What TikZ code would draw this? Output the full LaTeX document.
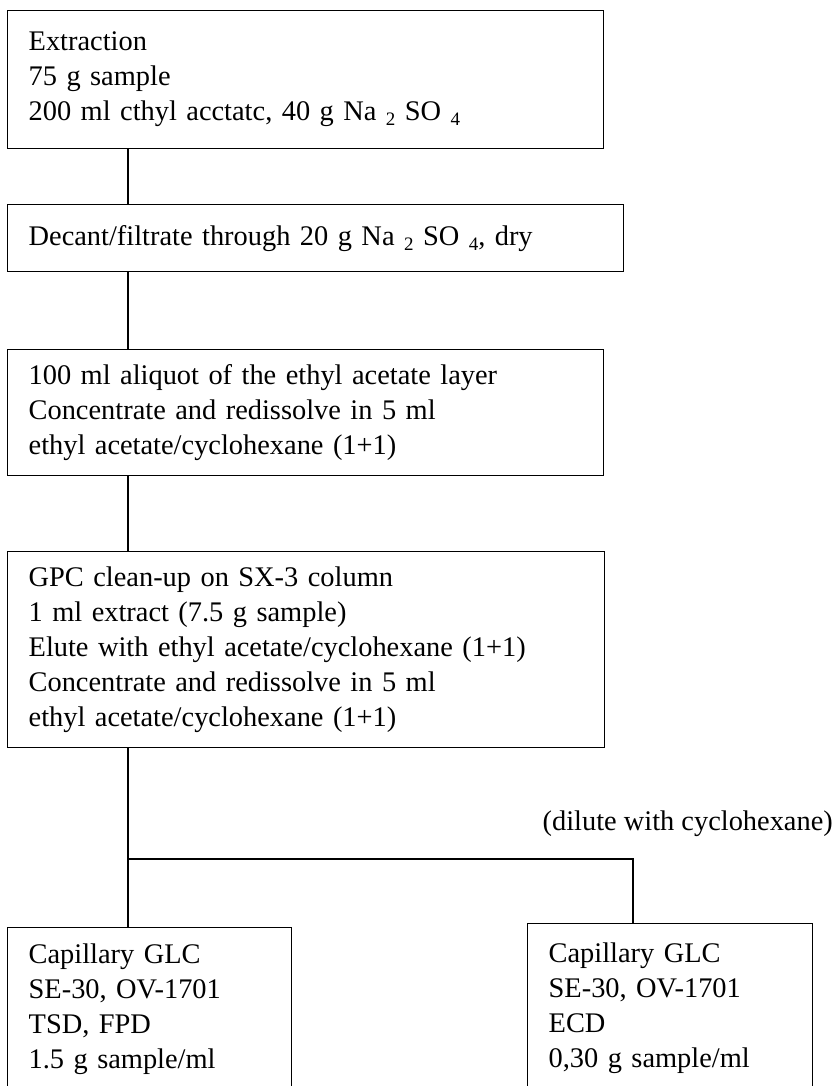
\documentclass[tikz,border=0pt]{standalone}
\usepackage{fontspec}
\setmainfont{Liberation Serif}
\newcommand{\chemsub}[1]{\raisebox{-5pt}{\fontsize{19}{19}\selectfont #1}}
\tikzset{
  box/.style={draw, line width=1.3pt, anchor=north west, align=left,
    inner xsep=21pt, inner ysep=0pt, font=\fontsize{28.4}{35}\selectfont},
  link/.style={draw, line width=1.3pt},
  lbl/.style={inner sep=0pt, font=\fontsize{28.4}{35}\selectfont}
}
\begin{document}
\begin{tikzpicture}[x=1pt,y=-1pt]
\useasboundingbox (0,0) rectangle (835,1086);
\clip (0,0) rectangle (835,1086);
\fill[white] (0,0) rectangle (835,1086);

\node[box, text width=554pt, minimum width=596pt, minimum height=138pt] (b1) at (7,10)
  {\raisebox{-4pt}{\parbox{554pt}{Extraction\\75 g sample\\200 ml cthyl acctatc, 40 g Na \chemsub{2} SO \chemsub{4}}}};
\node[box, text width=574pt, minimum width=616pt, minimum height=67pt] (b2) at (7,204)
  {Decant/filtrate through 20 g Na \chemsub{2} SO \chemsub{4}, dry};
\node[box, text width=554pt, minimum width=596pt, minimum height=126pt] (b3) at (7,349)
  {100 ml aliquot of the ethyl acetate layer\\Concentrate and redissolve in 5 ml\\ethyl acetate/cyclohexane (1+1)};
\node[box, text width=555pt, minimum width=597pt, minimum height=196pt] (b4) at (7,551)
  {GPC clean-up on SX-3 column\\1 ml extract (7.5 g sample)\\Elute with ethyl acetate/cyclohexane (1+1)\\Concentrate and redissolve in 5 ml\\ethyl acetate/cyclohexane (1+1)};
\node[box, text width=242pt, minimum width=284pt, minimum height=164pt] (b5) at (7,927)
  {Capillary GLC\\SE-30, OV-1701\\TSD, FPD\\1.5 g sample/ml};
\node[box, text width=243pt, minimum width=285pt, minimum height=170pt] (b6) at (527,923)
  {Capillary GLC\\SE-30, OV-1701\\ECD\\0,30 g sample/ml};

\node[lbl, anchor=base east] (dil) at (833,830) {(dilute with cyclohexane)};

\coordinate (spine) at (128,0);
\coordinate (split) at (128,859);
\coordinate (rsp) at (633,859);

\draw[link] (b1.south -| spine) -- (b2.north -| spine);
\draw[link] (b2.south -| spine) -- (b3.north -| spine);
\draw[link] (b3.south -| spine) -- (b4.north -| spine);
\draw[link] (b4.south -| spine) -- (b5.north -| spine);
\draw[link] (split) -- (rsp) -- (b6.north -| rsp);
\end{tikzpicture}
\end{document}
